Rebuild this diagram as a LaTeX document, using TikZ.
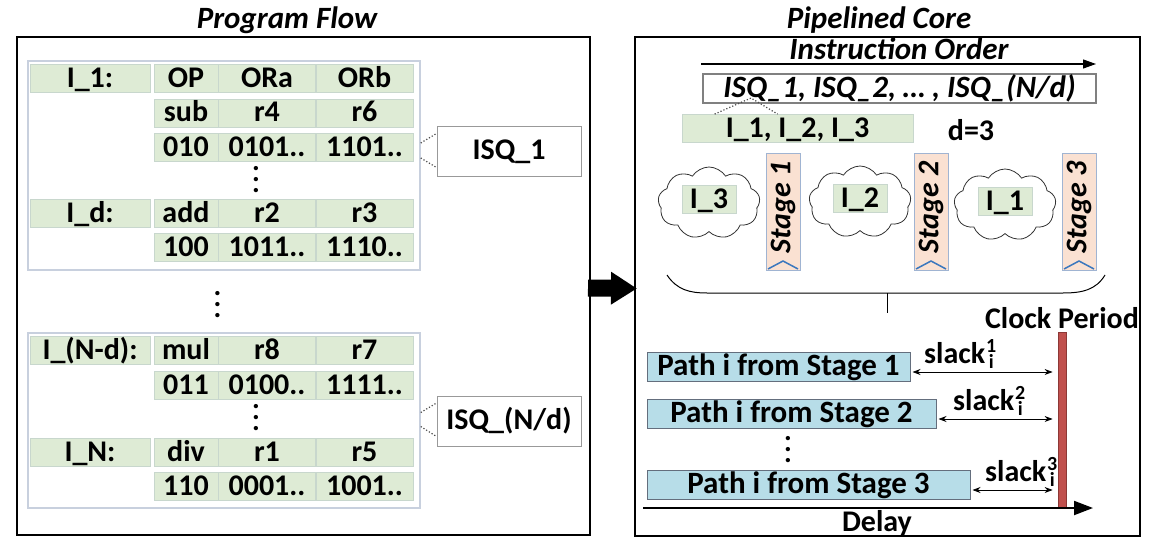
\documentclass[tikz,border=0pt]{standalone}
\usepackage{fontspec}
\setmainfont{Carlito}
\usepackage{xcolor}
\usepackage{tikz}
\usetikzlibrary{shapes.symbols,arrows.meta,positioning,calc}
\definecolor{cellgreen}{RGB}{222,235,213}
\definecolor{cellline}{RGB}{200,215,205}
\definecolor{panelline}{RGB}{200,208,222}
\definecolor{stagefill}{RGB}{250,225,210}
\definecolor{stageline}{RGB}{160,180,210}
\definecolor{chevblue}{RGB}{60,120,190}
\definecolor{pathfill}{RGB}{183,221,232}
\definecolor{pathline}{RGB}{100,110,125}
\definecolor{clockred}{RGB}{192,80,77}
\definecolor{clockline}{RGB}{140,56,54}
\newcommand{\figfont}{\fontsize{30}{34}\selectfont\bfseries}
\newcommand{\bigfont}{\fontsize{31}{35}\selectfont\bfseries}
\newcommand{\subfont}{\fontsize{20}{20}\selectfont\bfseries}
\newcommand{\slacklabel}[1]{slack\kern1pt\rlap{\raisebox{11pt}{\makebox[10pt]{\subfont #1}}}%
  \raisebox{-5pt}{\makebox[10pt]{\subfont i}}}
\tikzset{
  frame/.style    ={rectangle, draw=black, line width=2pt, inner sep=0pt},
  panel/.style    ={rectangle, draw=panelline, line width=1.5pt, inner sep=0pt},
  cell/.style     ={rectangle, draw=cellline, line width=0.8pt, fill=cellgreen,
                    minimum height=28pt, inner sep=0pt, text height=19pt,
                    text depth=1pt, font=\figfont},
  labcell/.style  ={cell, minimum width=120pt},
  opcell/.style   ={cell, minimum width=64pt},
  regcell/.style  ={cell, minimum width=97pt},
  isqbox/.style   ={rectangle, draw=black!40, line width=1pt, fill=white,
                    minimum width=144pt, minimum height=50pt, font=\figfont},
  seqbox/.style   ={rectangle, draw=black!50, line width=1.5pt, fill=white,
                    minimum width=393pt, minimum height=29pt, inner sep=0pt,
                    text height=19pt, text depth=1pt, font=\bigfont\itshape},
  title/.style    ={font=\bigfont\itshape, anchor=base, inner sep=0pt},
  plain/.style    ={font=\figfont, inner sep=0pt},
  vdot/.style     ={font=\fontsize{29}{11}\selectfont\bfseries, align=center,
                    inner sep=0pt},
  cloudnode/.style={cloud, cloud puffs=9, cloud puff arc=115, aspect=1.4,
                    draw=black!80, line width=0.8pt, fill=white,
                    minimum width=102pt, minimum height=72pt, inner sep=0pt},
  stagebar/.style ={rectangle, rotate=90, draw=stageline, line width=1pt,
                    fill=stagefill, minimum width=116pt, minimum height=34pt,
                    inner sep=0pt, font=\figfont\itshape},
  chev/.style     ={draw=chevblue, line width=1.5pt},
  pathbox/.style  ={rectangle, draw=pathline, line width=1pt, fill=pathfill,
                    minimum height=29pt, inner sep=0pt, text height=19pt,
                    text depth=1pt, font=\bigfont},
  clockbar/.style ={rectangle, draw=clockline, line width=0.8pt, fill=clockred,
                    minimum width=8pt, minimum height=176pt, inner sep=0pt},
  dotline/.style  ={dotted, line width=1.2pt, draw=black!70},
  bigarrow/.style ={line width=17pt, -{Triangle[length=26pt,width=31pt]}},
  thinarrow/.style={line width=1.2pt, -{Triangle[length=13pt,width=9pt]}},
  slackarrow/.style={line width=0.8pt,
                    {Stealth[length=8pt,width=6pt]}-{Stealth[length=8pt,width=6pt]}},
  axis/.style     ={line width=2pt, -{Triangle[length=19pt,width=14pt]}}
}
\begin{document}
\begin{tikzpicture}[x=1pt, y=-1pt]
  \useasboundingbox (0,0) rectangle (1155,540);
  \node[frame, minimum width=573pt, minimum height=498pt] (pf) at (303.5,286) {};
  \node[title] (pftitle) at (287,29) {Program Flow};
  \node[panel, minimum width=392pt, minimum height=209pt] (grp1) at (224,165.5) {};
  \node[panel, minimum width=392pt, minimum height=175pt] (grp2) at (224,420.5) {};
  \foreach \n/\y/\lab/\op/\ra/\rb in {h1/78.5/{I\_1:}/OP/ORa/ORb,
      hd/213/{I\_d:}/add/r2/r3, hnd/350.5/{I\_(N-d):}/mul/r8/r7,
      hn/452.5/{I\_N:}/div/r1/r5}{
    \node[labcell] (\n-lab) at (90,\y)    {\lab};
    \node[opcell]  (\n-op)  at (186,\y)   {\op};
    \node[regcell] (\n-ra)  at (267,\y)   {\ra};
    \node[regcell] (\n-rb)  at (364.5,\y) {\rb};
  }
  \foreach \n/\y/\op/\ra/\rb in {h1a/113/sub/r4/r6, h1b/147.5/010/0101../1101..,
      hdb/247.5/100/1011../1110.., hndb/385/011/0100../1111..,
      hnb/486/110/0001../1001..}{
    \node[opcell]  (\n-op) at (186,\y)   {\op};
    \node[regcell] (\n-ra) at (267,\y)   {\ra};
    \node[regcell] (\n-rb) at (364.5,\y) {\rb};
  }
  \node[vdot] (vd1) at (256,180)   {.\\.\\.};
  \node[vdot] (vd2) at (217.5,305) {.\\.\\.};
  \node[vdot] (vd3) at (256,418)   {.\\.\\.};
  \node[isqbox] (isq1) at (509,151.5) {ISQ\_1};
  \node[isqbox] (isqn) at (509,421)   {ISQ\_(N/d)};
  \draw[dotline] ($(grp1.east)+(0,-22.5)$) -- ($(isq1.west)+(0,-18)$);
  \draw[dotline] ($(grp1.east)+(0,-7.5)$)  -- ($(isq1.west)+(0,16)$);
  \draw[dotline] ($(grp2.east)+(0,-8)$)    -- ($(isqn.west)+(0,-18)$);
  \draw[dotline] ($(grp2.east)+(0,6)$)     -- ($(isqn.west)+(0,15.5)$);

  \node[frame, minimum width=505pt, minimum height=499pt] (pc) at (887.5,286.5) {};
  \node[title] (pctitle) at (879,29) {Pipelined Core};
  \draw[bigarrow] ($(pf.east)+(-3,2)$) -- ($(pc.west)+(3,2)$);
  \coordinate (ioL) at (701,64);
  \coordinate (ioR) at (1096,64);
  \draw[thinarrow] (ioL) -- (ioR);
  \node[title] (iotxt) at (899,60) {Instruction Order};
  \node[seqbox] (isqseq) at (899.5,88.5) {ISQ\_1, ISQ\_2, \ldots\ , ISQ\_(N/d)};
  \node[cell, minimum width=231pt] (grpI) at (797.5,128.5) {I\_1, I\_2, I\_3};
  \node[plain] (dval) at (971,130) {d=3};
  \coordinate (isqtip) at (751,98);
  \draw[dotline] ($(grpI.north west)+(33,0)$) -- (isqtip)
                 -- ($(grpI.north west)+(96,0)$);
  \foreach \c/\x/\y/\k in {c3/709/203/3, c2/860/202/2, c1/1005/205/1}{
    \node[cloudnode] (\c) at (\x,\y) {};
    \node[cell, minimum width=54pt] (i\k) at ($(\c)+(0,-4)$) {I\_\k};
  }
  \foreach \s/\x/\k in {s1/783/1, s2/931/2, s3/1079/3}{
    \node[stagebar] (\s) at (\x,212) {\hspace*{10pt}Stage \k};
    \draw[chev] ($(\s.center)+(-15,57)$) -- ($(\s.center)+(0,49)$)
                -- ($(\s.center)+(15,57)$);
  }
  \draw[line width=1pt] (667,275) .. controls (677,290) and (690,293) .. (707,293)
    -- (1063,293) .. controls (1082,293) and (1096,290) .. (1105,275);
  \draw[line width=1pt] (887,293) -- (887,313);

  \node[plain] (clkp) at (1062,318) {Clock Period};
  \node[clockbar] (clk) at (1062,420) {};
  \node[pathbox, minimum width=263pt] (p1) at (778.5,366.5) {Path i from Stage 1};
  \node[pathbox, minimum width=289pt] (p2) at (791.5,413.5) {Path i from Stage 2};
  \node[pathbox, minimum width=323pt] (p3) at (808.5,484.5) {Path i from Stage 3};
  \node[vdot] (vd4) at (788,450) {.\\.\\.};
  \foreach \p/\k/\x/\y in {p1/1/924/363, p2/2/953/410, p3/3/985/481}{
    \draw[slackarrow] ($(\p.east)+(2,5.5)$) -- ($(clk.west |- \p.east)+(-5,5.5)$);
    \node[plain, anchor=base west] (sl\k) at (\x,\y) {\slacklabel{\k}};
  }
  \coordinate (ax0) at (643,508);
  \coordinate (ax1) at (1093,508);
  \draw[axis] (ax0) -- (ax1);
  \node[plain] (delay) at (877,523) {Delay};
\end{tikzpicture}
\end{document}
